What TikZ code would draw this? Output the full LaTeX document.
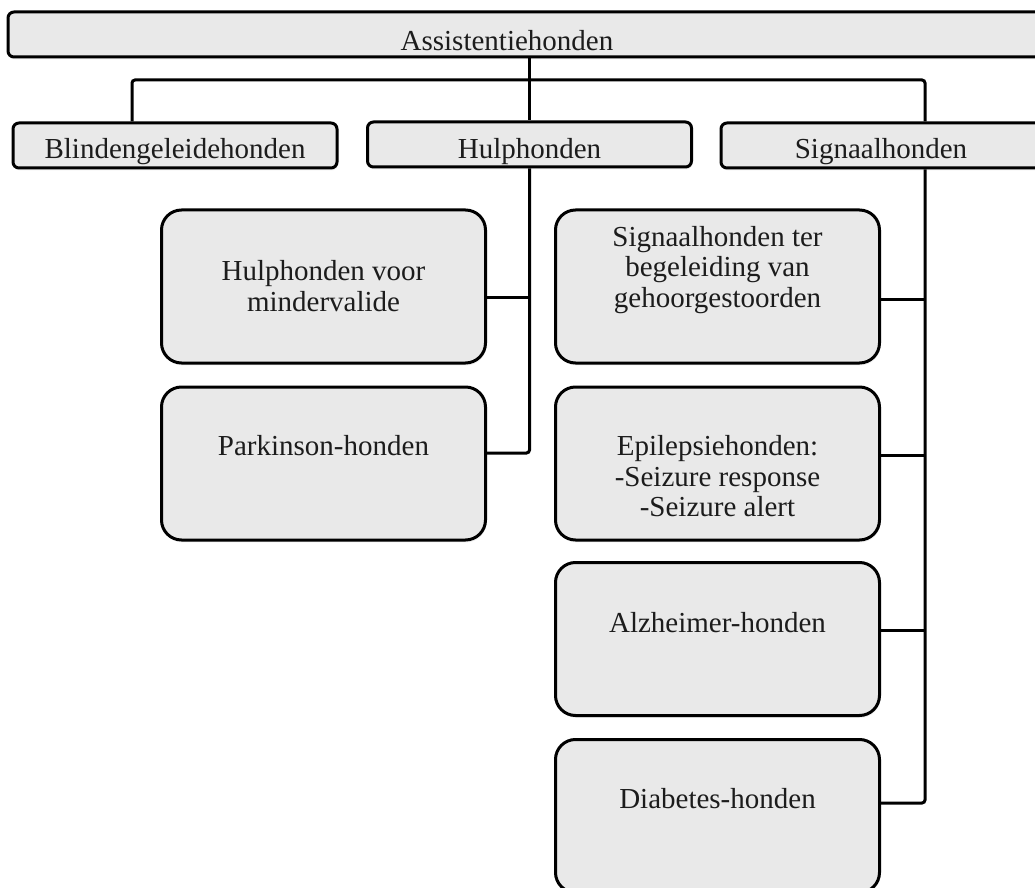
\documentclass[tikz,border=0pt]{standalone}
\usepackage{fontspec}
\setmainfont{Liberation Serif}
\usepackage{xcolor}
\usepackage{tikz}
\usetikzlibrary{shadows}
\definecolor{boxgray}{RGB}{233,233,233}
\definecolor{txtgray}{RGB}{28,28,28}

\begin{document}
\begin{tikzpicture}[x=0.5pt, y=-0.5pt,
    txt/.style={font=\fontsize{14.5}{15.4}\selectfont, text=txtgray, align=center, inner sep=0pt},
    box/.style={draw=black, line width=1.5pt, fill=boxgray, rounded corners=3pt,
        minimum width=162pt, minimum height=22.5pt, inner sep=0pt,
        drop shadow={shadow xshift=0.5pt, shadow yshift=-1.2pt, opacity=0.12}},
    bigbox/.style={box, rounded corners=10pt, minimum height=76.5pt},
    conn/.style={draw=black, line width=1.5pt, rounded corners=1.5pt}]
    \useasboundingbox (0,0) rectangle (1035,888);
    \clip (0,0) rectangle (1035,888);

    % Top level
    \node[box, minimum width=518.5pt, label={[txt, xshift=-9.75pt, yshift=-2.85pt]center:Assistentiehonden}] (root) at (526.5,34.5) {};

    % Second level
    \node[box, label={[txt, yshift=-2.9pt]center:Blindengeleidehonden}] (blind) at (175,145.5) {};
    \node[box, label={[txt, yshift=-3.4pt]center:Hulphonden}] (hulp) at (529.5,144.5) {};
    \node[box, label={[txt, xshift=-1pt, yshift=-2.9pt]center:Signaalhonden}] (sig) at (883,145.5) {};

    % Hulphonden
    \node[bigbox, label={[txt, yshift=0.4pt]center:Hulphonden voor\\mindervalide}] (mind) at (323.5,286.5) {};
    \node[bigbox, label={[txt, yshift=9.15pt]center:Parkinson-honden}] (park) at (323.5,463.5) {};

    % Signaalhonden
    \node[bigbox, label={[txt, yshift=8.25pt]center:Signaalhonden ter\\begeleiding van\\gehoorgestoorden}] (sgh) at (717.5,286.5) {};
    \node[bigbox, label={[txt, yshift=-6.3pt]center:Epilepsiehonden:\\-Seizure response\\-Seizure alert}] (epi) at (717.5,463.5) {};
    \node[bigbox, label={[txt, yshift=8.4pt]center:Alzheimer-honden}] (alz) at (717.5,639) {};
    \node[bigbox, label={[txt, yshift=8.9pt]center:Diabetes-honden}] (diab) at (717.5,816) {};

    % Connectors
    \coordinate (barL) at (132,80);
    \coordinate (barR) at (925,80);
    \draw[conn] (root.south -| hulp.north) -- (hulp.north);
    \draw[conn] (barL |- blind.north) -- (barL) -- (barR) -- (barR |- sig.north);

    \draw[conn] (hulp.south) |- ([yshift=5.25pt]park.east);
    \draw[conn] ([yshift=-5.75pt]mind.east) -- ([yshift=-5.75pt]mind.east -| hulp.south);

    \draw[conn] (sig.south -| barR) |- ([yshift=6.5pt]diab.east);
    \draw[conn] ([yshift=-6.75pt]sgh.east) -- ([yshift=-6.75pt]sgh.east -| barR);
    \draw[conn] ([yshift=4.25pt]epi.east) -- ([yshift=4.25pt]epi.east -| barR);
    \draw[conn] ([yshift=4.5pt]alz.east) -- ([yshift=4.5pt]alz.east -| barR);
\end{tikzpicture}
\end{document}
